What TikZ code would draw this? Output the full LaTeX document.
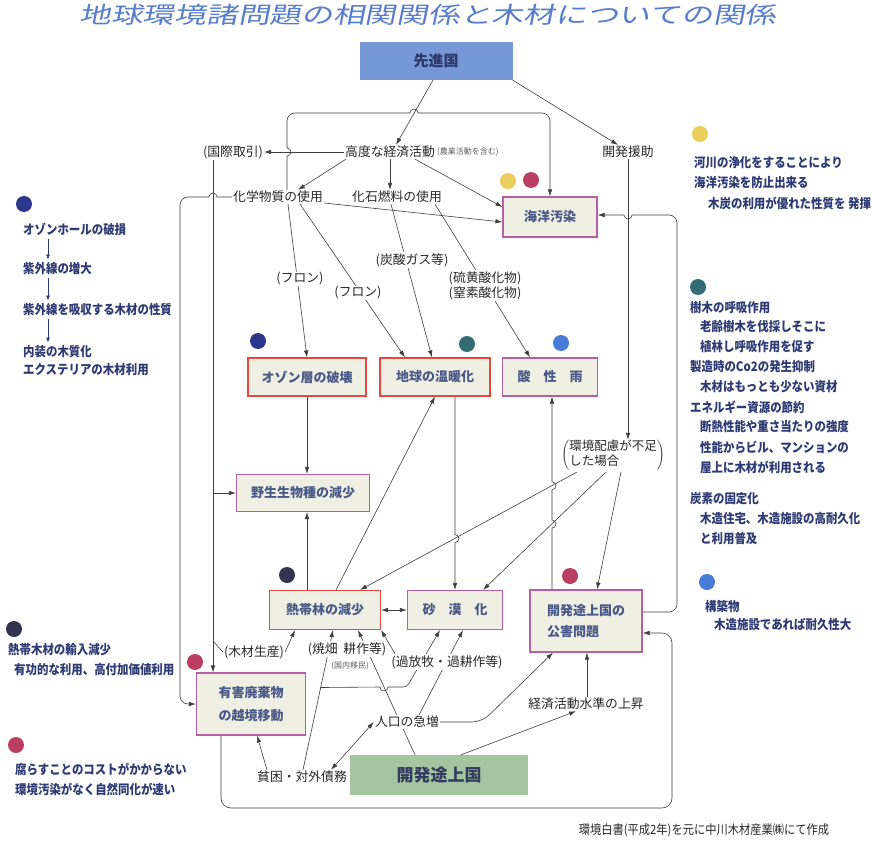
\documentclass[tikz,border=0pt]{standalone}
\usepackage{fontspec}
\setmainfont{Noto Sans CJK JP}
\newfontfamily\titlefont{Noto Sans CJK JP}[FakeSlant=0.2,FakeStretch=1.38]
\newfontfamily\notefont{Noto Sans CJK JP}[FakeStretch=0.88]
\usetikzlibrary{arrows.meta,calc}
\pgfdeclarelayer{back}\pgfdeclarelayer{bg}
\pgfsetlayers{back,bg,main}
\definecolor{titleblue}{RGB}{88,125,205}
\definecolor{topbox}{RGB}{118,152,215}
\definecolor{topboxtext}{RGB}{45,55,105}
\definecolor{greenbox}{RGB}{165,196,160}
\definecolor{greentext}{RGB}{50,60,95}
\definecolor{boxfill}{RGB}{240,239,228}
\definecolor{boxred}{RGB}{228,72,62}
\definecolor{boxpur}{RGB}{182,95,165}
\definecolor{boxtext}{RGB}{72,88,135}
\definecolor{linecol}{RGB}{62,62,62}
\definecolor{labelcol}{RGB}{40,40,40}
\definecolor{notecol}{RGB}{45,58,115}
\definecolor{dyellow}{RGB}{236,206,92}
\definecolor{dred}{RGB}{185,62,98}
\definecolor{dnavy}{RGB}{42,55,140}
\definecolor{dteal}{RGB}{52,108,118}
\definecolor{dblue}{RGB}{72,122,215}
\definecolor{ddark}{RGB}{48,52,78}
\tikzset{
  ln/.style={draw=linecol, line width=0.6pt},
  arr/.style={ln, -{Latex[length=7pt,width=4.5pt]}},
  darr/.style={ln, {Latex[length=7pt,width=4.5pt]}-{Latex[length=7pt,width=4.5pt]}},
  smallarr/.style={draw=notecol, line width=0.8pt, -{Latex[length=5pt,width=4pt]}},
  bx/.style={rectangle, fill=boxfill, line width=1.1pt, text=boxtext, font=\bfseries\fontsize{13}{16}\selectfont, inner sep=0pt, align=center},
  redbx/.style={bx, draw=boxred},
  purbx/.style={bx, draw=boxpur},
  lbl/.style={text=labelcol, font=\fontsize{12.8}{15}\selectfont, inner sep=1pt, fill=white},
  note/.style={text=notecol, font=\notefont\bfseries\fontsize{13}{16}\selectfont, inner sep=0pt, anchor=west},
  dotn/.style={circle, minimum size=16pt, inner sep=0pt},
}
\begin{document}
\begin{tikzpicture}[x=1pt,y=-1pt]
\useasboundingbox (0,0) rectangle (872,845);
\begin{pgfonlayer}{back}
\fill[white] (0,0) rectangle (872,845);
\end{pgfonlayer}

% title
\node[text=titleblue, font=\titlefont\fontsize{23}{26}\selectfont, inner sep=0pt] (title) at (428,15) {地球環境諸問題の相関関係と木材についての関係};

% main boxes
\node[fill=topbox, minimum width=153pt, minimum height=38pt, text=topboxtext, font=\bfseries\fontsize{15}{18}\selectfont] (sen) at (436,61) {先進国};
\node[purbx, minimum width=94pt, minimum height=40pt] (kaiyo) at (550,217) {海洋汚染};
\node[redbx, minimum width=118pt, minimum height=38pt] (ozone) at (307,377) {オゾン層の破壊};
\node[redbx, minimum width=110pt, minimum height=38pt] (ondan) at (435,377) {地球の温暖化};
\node[purbx, minimum width=95pt, minimum height=38pt] (sanse) at (550,377) {酸\quad 性\quad 雨};
\node[purbx, minimum width=133pt, minimum height=37pt] (yasei) at (303,493) {野生生物種の減少};
\node[redbx, minimum width=111pt, minimum height=39pt] (nettai) at (325,610) {熱帯林の減少};
\node[purbx, minimum width=95pt, minimum height=39pt] (sabaku) at (455,610) {砂\quad 漠\quad 化};
\node[purbx, minimum width=112pt, minimum height=62pt, align=left, font=\bfseries\fontsize{13}{21}\selectfont] (kogai) at (586,621) {開発途上国の\\公害問題\hspace*{26pt}};
\node[purbx, minimum width=109pt, minimum height=62pt, font=\bfseries\fontsize{13}{23}\selectfont] (yugai) at (251,704) {有害廃棄物\\の越境移動};
\node[fill=greenbox, minimum width=178pt, minimum height=40pt, text=greentext, font=\bfseries\fontsize{17}{20}\selectfont] (hatten) at (439,775) {開発途上国};

% labels
\node[lbl] (kodo) at (390,152) {高度な経済活動};
\node[lbl, anchor=west, font=\fontsize{8}{10}\selectfont, text=labelcol!75] (kodonote) at (kodo.east) {(農業活動を含む)};
\node[lbl] (kokusai) at (233,152) {(国際取引)};
\node[lbl] (enjo) at (628,152) {開発援助};
\node[lbl] (kagaku) at (278,197) {化学物質の使用};
\node[lbl] (kaseki) at (397,197) {化石燃料の使用};
\node[lbl] (tansan) at (412,260) {(炭酸ガス等)};
\node[lbl] (fron1) at (300,279) {(フロン)};
\node[lbl] (fron2) at (358,293) {(フロン)};
\node[lbl] (iou) at (485,278) {(硫黄酸化物)};
\node[lbl] (chisso) at (485,293) {(窒素酸化物)};
\node[lbl, inner sep=0pt, font=\fontsize{12.5}{15}\selectfont] (kankyo) at (613,455) {$\left(\begin{tabular}{@{}l@{}}環境配慮が不足\\した場合\end{tabular}\right)$};
\node[lbl] (mokuzai) at (254,652) {(木材生産)};
\node[lbl] (yakihata) at (347,649) {(焼畑\ \ 耕作等)};
\node[lbl, font=\fontsize{8}{10}\selectfont, text=labelcol!75] (kokunai) at (350,666) {(国内移民)};
\node[lbl] (kahoboku) at (447,662) {(過放牧・過耕作等)};
\node[lbl] (jinko) at (407,722) {人口の急増};
\node[lbl] (keizai) at (586,704) {経済活動水準の上昇};
\node[lbl] (hinkon) at (302,777) {貧困・対外債務};
\node[note, anchor=center, text=labelcol, font=\notefont\fontsize{12.8}{15}\selectfont] (foot) at (704,830) {環境白書(平成2年)を元に中川木材産業㈱にて作成};

% free ends
\coordinate (k1) at (577,472);
\coordinate (k2) at (606,472);
\coordinate (k3) at (621,472);
\coordinate (kv1) at (213,493);
\coordinate (kv2) at (213,641);

% dots
\node[dotn, fill=dyellow] (dA) at (508,181) {};
\node[dotn, fill=dred] (dB) at (531,180) {};
\node[dotn, fill=dnavy] (dC) at (258,341) {};
\node[dotn, fill=dteal] (dD) at (467,344) {};
\node[dotn, fill=dblue] (dE) at (561,343) {};
\node[dotn, fill=ddark] (dF) at (287,575) {};
\node[dotn, fill=dred] (dG) at (570,576) {};
\node[dotn, fill=dred] (dH) at (195,662) {};
\node[dotn, fill=dnavy] (dL1) at (24,204) {};
\node[dotn, fill=ddark] (dL2) at (14,629) {};
\node[dotn, fill=dred] (dL3) at (16,745) {};
\node[dotn, fill=dyellow] (dR1) at (700,134) {};
\node[dotn, fill=dteal] (dR2) at (698,287) {};
\node[dotn, fill=dblue] (dR3) at (707,582) {};

% side notes
\foreach \nm/\xx/\yy/\tx in {
  la1/23/229/オゾンホールの破損,
  la2/23/269/紫外線の増大,
  la3/23/310/紫外線を吸収する木材の性質,
  la4/23/352/内装の木質化,
  la5/23/370/エクステリアの木材利用,
  lb1/8/650/熱帯木材の輸入減少,
  lb2/14/670/有功的な利用、高付加価値利用,
  lc1/15/769/腐らすことのコストがかからない,
  lc2/15/789/環境汚染がなく自然同化が速い,
  ra1/694/163/河川の浄化をすることにより,
  ra2/694/183/海洋汚染を防止出来る,
  ra3/708/203/木炭の利用が優れた性質を 発揮,
  rb1/690/308/樹木の呼吸作用,
  rb2/700/327/老齢樹木を伐採しそこに,
  rb3/700/347/植林し呼吸作用を促す,
  rb4/690/367/製造時のCo2の発生抑制,
  rb5/700/387/木材はもっとも少ない資材,
  rb6/690/407/エネルギー資源の節約,
  rb7/700/427/断熱性能や重さ当たりの強度,
  rb8/700/447/性能からビル、マンションの,
  rb9/700/467/屋上に木材が利用される,
  rc1/690/499/炭素の固定化,
  rc2/700/519/木造住宅、木造施設の高耐久化,
  rc3/700/539/と利用普及,
  rd1/705/606/構築物,
  rd2/714/625/木造施設であれば耐久性大}
  \node[note] (\nm) at (\xx,\yy) {\tx};

\draw[smallarr] ($(la1.south west)+(25,3)$) -- ($(la2.north west)+(25,-3)$);
\draw[smallarr] ($(la2.south west)+(25,3)$) -- ($(la3.north west)+(25,-3)$);
\draw[smallarr] ($(la3.south west)+(25,3)$) -- ($(la4.north west)+(25,-3)$);

\begin{pgfonlayer}{bg}
% top
\draw[arr] ([xshift=-3pt]sen.south) -- ([xshift=6pt]kodo.north);
\draw[arr] (sen.south east) -- ([xshift=-10pt]enjo.north);
\draw[arr] ([xshift=9pt]kagaku.north) -- (287,156) arc[start angle=-90,end angle=90,radius=4pt] -- (287,121) arc[start angle=180,end angle=90,radius=8pt] -- (410,113) arc[start angle=180,end angle=0,radius=4pt] -- (542,113) arc[start angle=90,end angle=0,radius=8pt] -- (kaiyo.north);
\draw[arr] (kodo.west) -- (kokusai.east);
\draw[arr] ([xshift=2pt]kodo.south west) -- ([xshift=20pt]kagaku.north);
\draw[arr] (kodo.south) -- (kodo.south |- kaseki.north);
\draw[arr] ([xshift=25pt]kodo.south) -- ([yshift=10pt]kaiyo.west);
\draw[arr] ([yshift=-6pt]kagaku.east) -- ([yshift=-5pt]kaiyo.west);
\draw[arr] ([xshift=10pt]kagaku.south) -- (ozone.north);
\draw[arr] ([xshift=22pt]kagaku.south) -- ([xshift=-30pt]ondan.north);
\draw[arr] ([xshift=-6pt]kaseki.south) -- ([xshift=-3pt]ondan.north);
\draw[arr] ([xshift=38pt]kaseki.south) -- ([xshift=-20pt]sanse.north);
% middle
\draw[arr] (ozone.south) -- (ozone.south |- yasei.north);
\draw[arr] ([xshift=-20pt]kokusai.south) -- ([xshift=-20pt]kokusai.south |- yugai.north);
\draw[arr] (kv1) -- (kv1 -| yasei.west);
\draw[ln] (kv2) -- (mokuzai.west);
\draw[arr] (mokuzai.east) -- ([xshift=-30pt]nettai.south);
\draw[arr] (kagaku.west) -- (217,197) arc[start angle=0,end angle=180,radius=4pt] -- (188,197) arc[start angle=90,end angle=180,radius=8pt] -- (180,696) arc[start angle=180,end angle=270,radius=8pt] -- (yugai.west);
\draw[arr] ([xshift=-18pt]nettai.north) -- ([xshift=-18pt]nettai.north |- yasei.south);
\draw[arr] ([xshift=11pt]nettai.north) -- (ondan.south);
\draw[arr] ([xshift=20pt]ondan.south) -- (455,534.6) arc[start angle=90,end angle=-90,radius=4pt] -- (sabaku.north);
\draw[arr] (k1) -- ([xshift=35pt]nettai.north);
\draw[arr] (k2) -- ([xshift=28pt]sabaku.north);
\draw[arr] (k3) -- ([xshift=11pt]kogai.north);
\draw[arr] (enjo.south) -- (enjo.south |- kankyo.north);
\draw[arr] ([xshift=-34pt]kogai.north) -- (552,528) arc[start angle=-90,end angle=90,radius=4pt] -- (552,489.7) arc[start angle=-90,end angle=90,radius=4pt] -- ([xshift=2pt]sanse.south);
\draw[arr] ([yshift=9pt]kogai.east) -- (669,612) arc[start angle=-90,end angle=0,radius=8pt] -- (677,223) arc[start angle=0,end angle=90,radius=8pt] -- (632,215) arc[start angle=0,end angle=-180,radius=4pt] -- ([yshift=2pt]kaiyo.east);
\draw[arr, rounded corners=10pt] ([xshift=-30pt]yugai.south) -- (221,808) -- (672,808) -- (672,633) -- ([yshift=-12pt]kogai.east);
\draw[darr] (nettai.east) -- (sabaku.west);
% bottom
\draw[arr] ([xshift=-35pt]hinkon.north) -- ([xshift=6pt]yugai.south);
\draw[arr] ([xshift=1pt]hinkon.north) -- ([xshift=8pt]nettai.south);
\coordinate (br0) at ($([xshift=1pt]hinkon.north)!0.589!([xshift=8pt]nettai.south)$);
\draw[arr] (br0) -- (380,687) arc[start angle=180,end angle=360,radius=4pt] -- (403,687) to[out=0,in=240] (412,678) -- ([xshift=-15pt]sabaku.south);
\draw[arr] ([xshift=-24pt]hatten.north) -- ([xshift=33pt]nettai.south);
\draw[arr] ([xshift=5pt]kahoboku.north west) -- (nettai.south east);
\draw[arr] ([xshift=12pt]jinko.north) -- ([xshift=8pt]sabaku.south);
\draw[arr, rounded corners=10pt] (jinko.east) -- (482,722) -- ([xshift=-33pt]kogai.south);
\draw[arr] ([xshift=1pt]keizai.north) -- ([xshift=1pt]keizai.north |- kogai.south);
\draw[arr] ([xshift=22pt]hatten.north) -- ([xshift=-10pt]keizai.south);
\draw[darr] ([xshift=-17pt]hinkon.north east) -- (jinko.west);
\end{pgfonlayer}
\end{tikzpicture}
\end{document}
